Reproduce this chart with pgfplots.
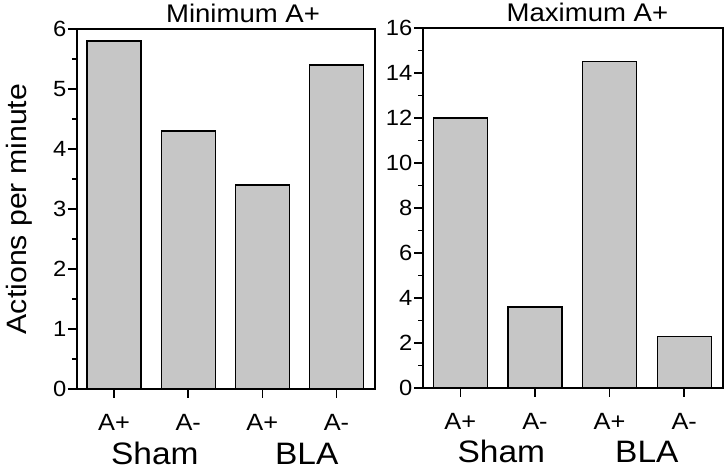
\documentclass[border=0pt]{standalone}
\usepackage{fontspec}
\setmainfont[FakeStretch=1.08]{Liberation Sans}
\usepackage{pgfplots}
\pgfplotsset{compat=1.18}
\definecolor{barfill}{RGB}{198,198,198}
\pgfplotsset{
  panel/.style={
    scale only axis, height=360pt,
    ybar, bar width=54pt, bar shift=0pt,
    xmin=-0.5, xmax=3.52, ymin=0,
    xtick={0,1,2,3}, xticklabels={A+,A-,A+,A-},
    axis line style={line width=1.4pt},
    every tick/.style={black, line width=1.4pt},
    major tick length=9pt, minor tick length=5pt,
    tick align=outside, xtick pos=bottom, ytick pos=left,
    minor y tick num=1,
    /pgf/number format/assume math mode=true,
    yticklabel style={font=\fontsize{22}{22}\selectfont, inner sep=1.5pt},
    xticklabel style={font=\fontsize{23.5}{23.5}\selectfont, anchor=base, yshift=-33pt},
    title style={font=\fontsize{25.5}{25.5}\selectfont, anchor=base},
    clip=false,
  }
}
\begin{document}
\begin{tikzpicture}
\useasboundingbox (0,0) rectangle (728pt,470pt);
\begin{axis}[panel, width=298pt, at={(77pt,81pt)}, anchor=south west,
  ymax=6, ytick={0,1,2,3,4,5,6},
  title={Minimum A+}, title style={at={(axis description cs:0.557,1)}},
  ylabel={Actions per minute},
  ylabel style={font=\fontsize{28}{28}\selectfont, at={(axis description cs:-0.168,0.5)}, anchor=base}]
\addplot[fill=barfill, draw=black, line width=1.2pt] coordinates {(0,5.8) (1,4.3) (2,3.4) (3,5.4)};
\node[font=\fontsize{31}{31}\selectfont, anchor=base, yshift=-76pt] at (axis cs:0.55,0) {Sham};
\node[font=\fontsize{31}{31}\selectfont, anchor=base, yshift=-76pt] at (axis cs:2.6,0) {BLA};
\end{axis}
\begin{axis}[panel, width=300pt, at={(423pt,82pt)}, anchor=south west,
  ymax=16, ytick={0,2,4,6,8,10,12,14,16},
  title={Maximum A+}, title style={at={(axis description cs:0.548,1)}}]
\addplot[fill=barfill, draw=black, line width=1.2pt] coordinates {(0,12) (1,3.6) (2,14.5) (3,2.3)};
\node[font=\fontsize{31}{31}\selectfont, anchor=base, yshift=-75pt] at (axis cs:0.55,0) {Sham};
\node[font=\fontsize{31}{31}\selectfont, anchor=base, yshift=-75pt] at (axis cs:2.5,0) {BLA};
\end{axis}
\end{tikzpicture}
\end{document}
